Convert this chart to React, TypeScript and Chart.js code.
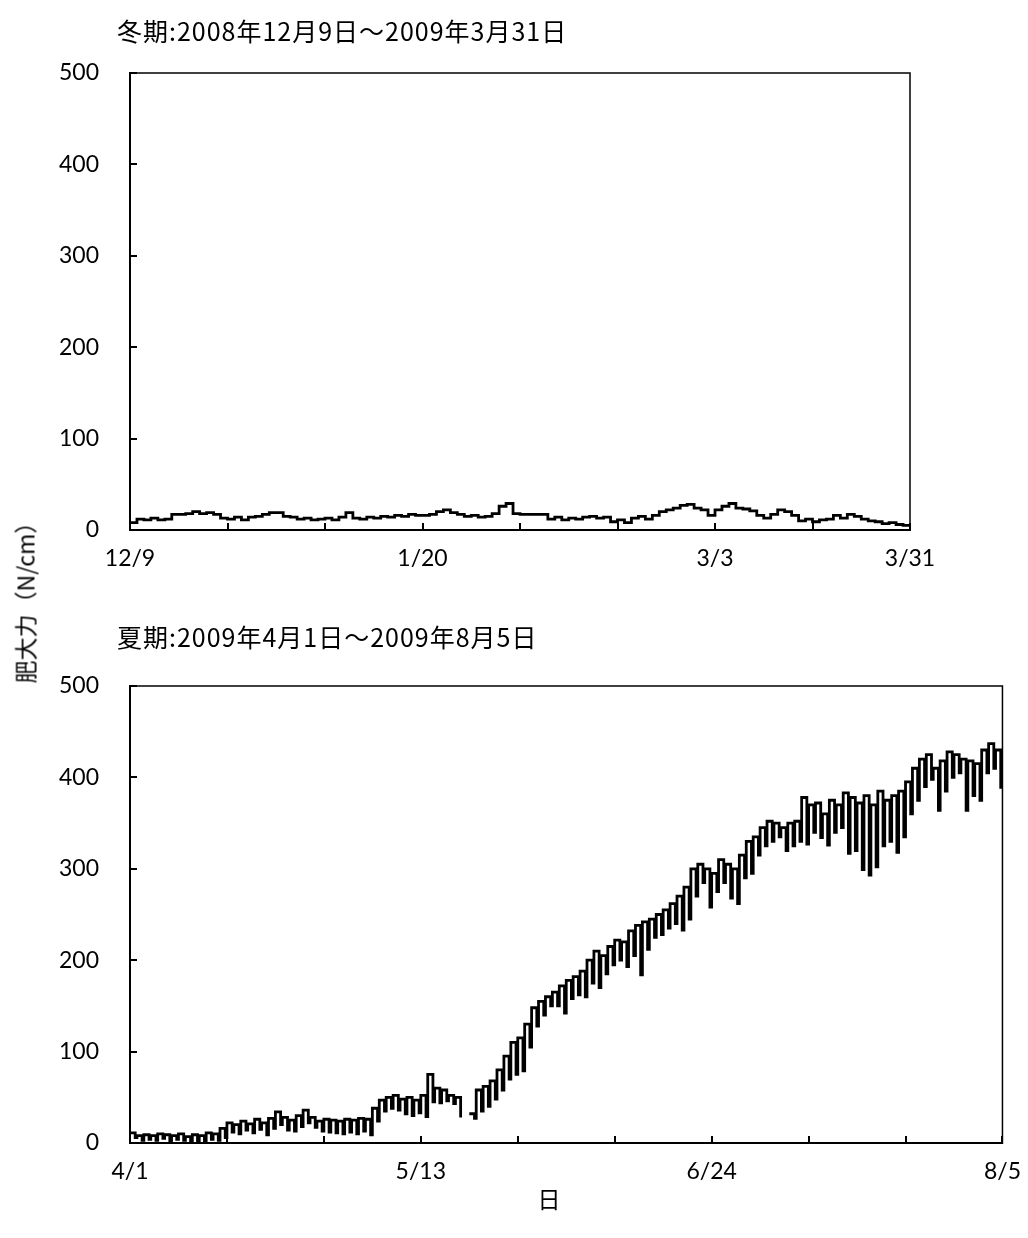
import { useEffect, useRef } from "react";
import { Chart, registerables } from "chart.js";

Chart.register(...registerables);

// 冬期 2008/12/9 – 2009/3/31: one reading per day (N/cm)
const winterValues = [
  8, 12, 11, 13, 11, 12, 17, 17, 18, 20,
  18, 19, 17, 13, 12, 14, 11, 14, 15, 17,
  19, 19, 15, 14, 12, 13, 11, 12, 13, 11,
  14, 19, 13, 12, 14, 13, 15, 14, 16, 15,
  17, 16, 16, 17, 20, 22, 19, 17, 15, 16,
  14, 15, 18, 26, 29, 18, 17, 17, 17, 17,
  12, 14, 11, 13, 12, 14, 15, 13, 14, 9,
  11, 8, 13, 15, 12, 16, 20, 22, 24, 27,
  28, 24, 22, 16, 22, 26, 29, 24, 23, 21,
  16, 13, 17, 22, 20, 16, 10, 12, 9, 11,
  12, 16, 13, 17, 15, 12, 10, 9, 7, 8,
  6, 5, 4,
];

// 夏期 2009/4/1 – 2009/8/5: daily maximum (N/cm), null = no record
const summerHigh = [
  11, 8, 9, 8, 10, 9, 8, 10, 7, 9,
  8, 11, 10, 16, 22, 20, 24, 21, 26, 22,
  27, 34, 28, 25, 30, 36, 28, 24, 26, 25,
  24, 26, 25, 27, 26, 38, 47, 50, 52, 48,
  50, 47, 52, 75, 60, 58, 52, 50, null, 32,
  58, 62, 68, 80, 95, 110, 115, 130, 148, 155,
  160, 165, 172, 178, 182, 188, 200, 210, 205, 215,
  222, 220, 232, 238, 242, 245, 250, 255, 262, 270,
  280, 300, 305, 300, 295, 310, 305, 300, 315, 330,
  335, 345, 352, 350, 345, 350, 352, 378, 370, 372,
  360, 375, 370, 383, 378, 372, 380, 370, 385, 375,
  380, 385, 395, 410, 420, 425, 410, 418, 428, 425,
  420, 418, 415, 430, 437, 430,
];

// 夏期: daily minimum (N/cm), null = no record
const summerLow = [
  6, 3, 4, 3, 5, 2, 4, 3, 1, 2,
  1, 4, 3, 6, 12, 10, 14, 11, 15, 9,
  16, 20, 14, 13, 18, 22, 17, 13, 12, 11,
  10, 12, 10, 13, 9, 24, 35, 38, 36, 32,
  30, 33, 29, 45, 44, 46, 43, 28, null, 27,
  35, 40, 48, 58, 70, 75, 79, 105, 128, 140,
  150, 150, 142, 158, 162, 160, 175, 170, 185, 195,
  200, 193, 205, 184, 212, 225, 228, 235, 240, 233,
  245, 270, 285, 258, 275, 285, 268, 262, 290, 295,
  315, 325, 330, 335, 320, 325, 330, 327, 340, 334,
  326, 340, 345, 317, 320, 299, 293, 302, 325, 330,
  318, 335, 360, 375, 390, 398, 364, 385, 400, 405,
  364, 380, 375, 405, 410, 389,
];

// reading at the close of 8/5
const summerFinal = 400;

// x-axis: a tick every 14 days, labels every 42 days
const TICK_DAYS = 14;
const winterTickLabels = ["12/9", "", "", "1/20", "", "", "3/3", "", "3/31"];
const summerTickLabels = ["4/1", "", "", "5/13", "", "", "6/24", "", "", "8/5"];

// y-axis range and step (N/cm)
const Y_MAX = 500;
const Y_STEP = 100;

// part of the day at which the daily minimum is reached
const MIN_PHASE = 0.75;

type Pt = { x: number; y: number | null };

function winterPoints(): Pt[] {
  return winterValues.map((v, d) => ({ x: d, y: v }));
}

function summerPoints(): Pt[] {
  const pts: Pt[] = [];
  summerHigh.forEach((h, d) => {
    pts.push({ x: d, y: h });
    pts.push({ x: d + MIN_PHASE, y: summerLow[d] });
  });
  pts.push({ x: summerHigh.length, y: summerFinal });
  return pts;
}

// top/right frame edges and inward tick marks
const framePlugin = {
  id: "frameAndInnerTicks",
  afterDatasetsDraw(chart: any) {
    const { ctx, chartArea: a, scales } = chart;
    ctx.save();
    ctx.strokeStyle = "#000";
    ctx.lineWidth = 1.5;
    ctx.beginPath();
    ctx.moveTo(a.left, a.top);
    ctx.lineTo(a.right, a.top);
    ctx.lineTo(a.right, a.bottom + 1);
    ctx.stroke();
    ctx.lineWidth = 2;
    ctx.beginPath();
    for (const t of scales.x.ticks) {
      const x = Math.round(scales.x.getPixelForValue(t.value));
      ctx.moveTo(x, a.bottom);
      ctx.lineTo(x, a.bottom - 7);
    }
    for (const t of scales.y.ticks) {
      const y = Math.round(scales.y.getPixelForValue(t.value));
      ctx.moveTo(a.left, y);
      ctx.lineTo(a.left + 7, y);
    }
    ctx.stroke();
    ctx.restore();
  },
};

const tickFont = { family: "Lato, 'Noto Sans', sans-serif", size: 23 };

function makeChart(
  canvas: HTMLCanvasElement,
  data: Pt[],
  maxDay: number,
  labels: string[],
  padding: { left: number; right: number; top: number; bottom: number }
) {
  return new Chart(canvas, {
    type: "line",
    data: {
      datasets: [
        {
          data: data as any,
          borderColor: "#000",
          borderWidth: 2.8,
          pointRadius: 0,
          stepped: true,
          spanGaps: false,
          fill: false,
        },
      ],
    },
    options: {
      animation: false,
      responsive: false,
      events: [],
      layout: { padding, autoPadding: false },
      plugins: { legend: { display: false }, tooltip: { enabled: false } },
      scales: {
        x: {
          type: "linear",
          min: 0,
          max: maxDay,
          afterFit: (s: any) => {
            s.height = 50;
          },
          grid: { display: false },
          border: { display: true, color: "#000", width: 2 },
          ticks: {
            stepSize: TICK_DAYS,
            autoSkip: false,
            maxRotation: 0,
            padding: 7,
            color: "#000",
            font: tickFont,
            callback: (v: any) => labels[Math.round(Number(v) / TICK_DAYS)] ?? "",
          },
        },
        y: {
          min: 0,
          max: Y_MAX,
          afterFit: (s: any) => {
            s.width = 90;
          },
          grid: { display: false },
          border: { display: true, color: "#000", width: 2 },
          ticks: {
            stepSize: Y_STEP,
            padding: 23,
            color: "#000",
            font: tickFont,
          },
        },
      },
    },
    plugins: [framePlugin],
  });
}

const textStyle: React.CSSProperties = {
  position: "absolute",
  fontFamily: "'Noto Sans CJK JP', sans-serif",
  color: "#000",
  whiteSpace: "nowrap",
};

const titleStyle: React.CSSProperties = {
  ...textStyle,
  fontSize: 25,
  lineHeight: "26px",
  letterSpacing: 1,
};

export default function App() {
  const winterRef = useRef<HTMLCanvasElement>(null);
  const summerRef = useRef<HTMLCanvasElement>(null);

  useEffect(() => {
    const w = makeChart(
      winterRef.current!,
      winterPoints(),
      winterValues.length - 1,
      winterTickLabels,
      { left: 40, right: 118, top: 73, bottom: 0 }
    );
    const s = makeChart(
      summerRef.current!,
      summerPoints(),
      summerHigh.length,
      summerTickLabels,
      { left: 40, right: 21, top: 86, bottom: 0 }
    );
    return () => {
      w.destroy();
      s.destroy();
    };
  }, []);

  return (
    <div style={{ position: "absolute", left: 0, top: 0, width: 1028, height: 1238, background: "#fff" }}>
      <canvas ref={winterRef} width={1028} height={580} style={{ position: "absolute", left: 0, top: 0 }} />
      <canvas ref={summerRef} width={1028} height={593} style={{ position: "absolute", left: 0, top: 600 }} />
      <div style={{ ...titleStyle, left: 117, top: 17 }}>冬期:2008年12月9日～2009年3月31日</div>
      <div style={{ ...titleStyle, left: 117, top: 623 }}>夏期:2009年4月1日～2009年8月5日</div>
      <div
        style={{
          ...textStyle,
          fontSize: 23,
          lineHeight: "23px",
          left: 25,
          top: 597,
          transform: "translate(-50%, -50%) rotate(-90deg)",
        }}
      >
        肥大力（N/cm）
      </div>
      <div
        style={{
          ...textStyle,
          fontSize: 23,
          lineHeight: "23px",
          left: 549,
          top: 1198,
          transform: "translate(-50%, -50%)",
        }}
      >
        日
      </div>
    </div>
  );
}
